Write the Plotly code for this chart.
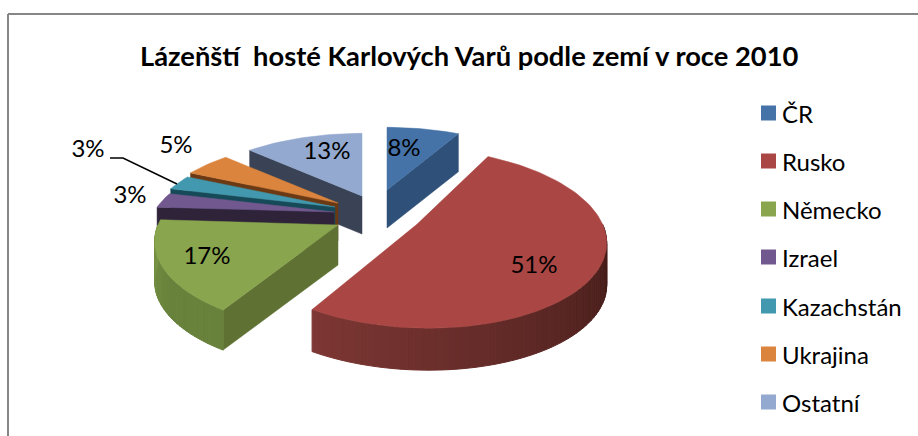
import math
import plotly.graph_objects as go

TITLE = "Lázeňští  hosté Karlových Varů podle zemí v roce 2010"
countries = ["ČR", "Rusko", "Německo", "Izrael", "Kazachstán", "Ukrajina", "Ostatní"]
shares = [8, 51, 17, 3, 3, 5, 13]

top_colors = ["#4572A7", "#AA4643", "#89A54E", "#71588F", "#4198AF", "#DB843D", "#93A9CF"]
face_colors = ["#2F5078", "#6E2E2C", "#5F7234", "#2E2339", "#174A58", "#6B3A14", "#3A4355"]
rim_colors = [((47, 80, 120), (47, 80, 120)), ((125, 55, 52), (66, 28, 25)), ((122, 148, 70), (104, 130, 60)),
              ((46, 35, 57), (46, 35, 57)), ((23, 74, 88), (23, 74, 88)), ((107, 58, 20), (107, 58, 20)),
              ((58, 67, 85), (58, 67, 85))]
# screen origin, explode amount, vertical radius, perspective and depth of every slice
origins = [(387, 190), (353, 207), (338, 225), (334, 212), (335, 207), (338, 203), (362, 196)]
explode = [0, 0.4, 0, 0, 0, 0, 0]
radius_y = [78, 82.5, 84.6, 78, 78, 78, 78]
persp = [0.245, 0.15, 0.19, 0.245, 0.245, 0.245, 0.245]
depths = [38, 42, 40, 38, 38, 38, 38]
draw_order = [0, 6, 5, 4, 3, 2, 1]
label_pos = [(404, 150), (534, 267), (207, 258), (130, 197), (88, 151), (176, 147), (327, 153)]
legend_y = [113, 161, 209, 257, 306, 354, 402]

RX = 180


def project(idx, X, Y):
    ox, oy = origins[idx]
    s = 1 / (1 - persp[idx] * Y)
    return ox + RX * X * s, oy + radius_y[idx] * Y * s


def poly(fig, pts, color, width=0.5):
    fig.add_trace(go.Scatter(x=[p[0] for p in pts] + [pts[0][0]], y=[p[1] for p in pts] + [pts[0][1]],
                             mode="lines", fill="toself", fillcolor=color,
                             line=dict(color=color, width=width), hoverinfo="skip", showlegend=False))


fig = go.Figure()
total = sum(shares)
starts = [sum(shares[:i]) / total * 2 * math.pi for i in range(len(shares))]
for i in draw_order:
    a0 = starts[i]
    a1 = a0 + shares[i] / total * 2 * math.pi
    mid = (a0 + a1) / 2
    px, py = explode[i] * math.sin(mid), -explode[i] * math.cos(mid)
    n = max(6, int(shares[i] * 2))
    angles = [a0 + (a1 - a0) * j / n for j in range(n + 1)]
    apex = project(i, px, py)
    rim = [project(i, px + math.sin(a), py - math.cos(a)) for a in angles]
    M = project(i, px + math.sin(mid), py - math.cos(mid))
    depth = depths[i]
    down = lambda p: (p[0], p[1] + depth)
    # radial faces
    for P in (rim[-1], rim[0]):
        dx = P[0] - apex[0]
        if abs(dx) < 1:
            continue
        ylin = apex[1] + (P[1] - apex[1]) / dx * (M[0] - apex[0])
        if M[1] < ylin:
            poly(fig, [apex, P, down(P), down(apex)], face_colors[i])
    # outer rim
    c0, c1 = rim_colors[i]
    for j in range(n):
        am = (angles[j] + angles[j + 1]) / 2
        if -math.cos(am) > 0:
            t = min(1, (1 - (j - n * 0.25) / (n - 1 - n * 0.25)) if j > n * 0.25 else 1)
            t = min(1, t / 0.85)
            col = "rgb(%d,%d,%d)" % tuple(c0[q] + (c1[q] - c0[q]) * t for q in range(3))
            poly(fig, [rim[j], rim[j + 1], down(rim[j + 1]), down(rim[j])], col, 1)
    poly(fig, [apex] + rim, top_colors[i])

FONT = "Lato"
# data labels
fig.add_trace(go.Scatter(x=[p[0] for p in label_pos], y=[p[1] for p in label_pos], mode="text",
                         text=[f"{v}%" for v in shares], textposition="middle center",
                         textfont=dict(family=FONT, size=24, color="#000000"),
                         hoverinfo="skip", showlegend=False))
# leader line
fig.add_trace(go.Scatter(x=[110, 123, 177], y=[158, 158, 184], mode="lines",
                         line=dict(color="#000000", width=1.5), hoverinfo="skip", showlegend=False))
# legend
fig.add_trace(go.Scatter(x=[768.5] * len(countries), y=legend_y, mode="markers",
                         marker=dict(symbol="square", size=15, color=top_colors, line=dict(width=0)),
                         hoverinfo="skip", showlegend=False))
for name, y in zip(countries, legend_y):
    fig.add_annotation(x=780, y=y, text=name, showarrow=False, xanchor="left", yanchor="middle",
                       font=dict(family=FONT, size=24, color="#000000"))
fig.add_annotation(x=469, y=55, text=f"<b>{TITLE}</b>", showarrow=False, xanchor="center", yanchor="middle",
                   font=dict(family=FONT, size=27.3, color="#000000"))

fig.update_layout(
    width=918, height=436, margin=dict(l=0, r=0, t=0, b=0, pad=0), autosize=False,
    paper_bgcolor="#FFFFFF", plot_bgcolor="#FFFFFF", showlegend=False,
    xaxis=dict(range=[0, 918], visible=False, fixedrange=True),
    yaxis=dict(range=[436, 0], visible=False, fixedrange=True),
    shapes=[dict(type="line", x0=8, x1=918, y0=14, y1=14, line=dict(color="#868686", width=2)),
            dict(type="line", x0=8, x1=8, y0=14, y1=436, line=dict(color="#868686", width=2))],
)
fig.write_html("out.html", config={"displayModeBar": False},
               post_script="document.body.style.margin='0';document.body.style.overflow='hidden';")
